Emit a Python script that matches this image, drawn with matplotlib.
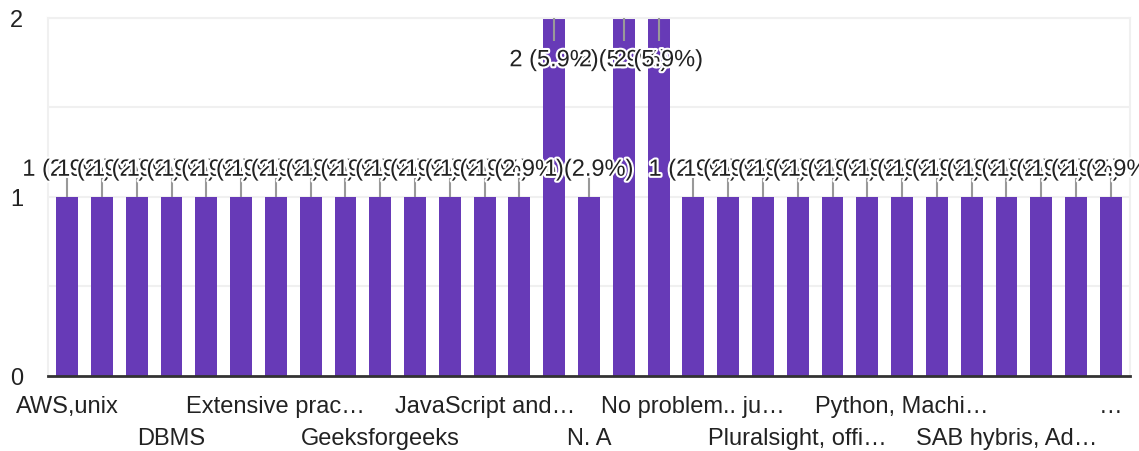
import matplotlib
matplotlib.use("Agg")
import matplotlib.pyplot as plt
import matplotlib.patheffects as pe
import matplotlib.transforms as mtransforms

plt.rcParams['font.family'] = ['Liberation Sans', 'DejaVu Sans']

# Categories (only every third label is visible in the chart; the others are unreadable)
categories = [
    "AWS,unix", "", "", "DBMS", "", "", "Extensive prac\u2026", "", "",
    "Geeksforgeeks", "", "", "JavaScript and\u2026", "", "", "N. A", "", "",
    "No problem.. ju\u2026", "", "", "Pluralsight, offi\u2026", "", "",
    "Python, Machi\u2026", "", "", "SAB hybris, Ad\u2026", "", "", "\u2026",
]
values = [1, 1, 1, 1, 1, 1, 1, 1, 1, 1, 1, 1, 1, 1, 2, 1, 2, 2,
          1, 1, 1, 1, 1, 1, 1, 1, 1, 1, 1, 1, 1]
total = sum(values)
yticks = [0, 1, 2]

BAR = '#673ab7'
TXT = '#222222'
GRID = '#f0f0f0'

W, H = 1139, 452
fig = plt.figure(figsize=(W / 100, H / 100), dpi=100)
left, right, top, bottom = 48, 1130, 18.5, 377
ax = fig.add_axes([left / W, 1 - bottom / H, (right - left) / W, (bottom - top) / H])

x = list(range(len(values)))
ax.bar(x, values, width=0.63, color=BAR, zorder=2)
ax.set_xlim(-0.55, len(values) - 0.45)
ax.set_ylim(0, 2)

for g in [0.5, 1, 1.5, 2]:
    ax.axhline(g, color=GRID, lw=1.5, zorder=1)

for s in ['left', 'right', 'top']:
    ax.spines[s].set_color(GRID)
    ax.spines[s].set_linewidth(1.5)
ax.spines['bottom'].set_color('#333333')
ax.spines['bottom'].set_linewidth(2)
ax.spines['bottom'].set_zorder(5)

ax.set_yticks(yticks)
ax.set_yticklabels([str(t) for t in yticks])
ax.tick_params(axis='y', length=0, pad=18, labelsize=17, labelcolor=TXT)
ax.set_xticks([])

# x category labels, alternating in two rows
trans = mtransforms.blended_transform_factory(ax.transData, ax.transAxes)
k = 0
for i, c in enumerate(categories):
    if c:
        yrow = -0.1004 if k % 2 == 0 else -0.1897
        ax.text(i, yrow, c, transform=trans, ha='center', va='baseline',
                fontsize=17, color=TXT, clip_on=False)
        k += 1

# value annotations with stems
halo = [pe.withStroke(linewidth=3, foreground='white')]
for i, v in enumerate(values):
    pct = 100.0 * v / total
    label = f"{v} ({pct:.1f}%)"
    if v >= 2:
        ax.plot([i, i], [v, v - 0.13], color='#999999', lw=1.5, zorder=3,
                solid_capstyle='butt', clip_on=False)
        ty = v - 0.272
    else:
        ax.plot([i, i], [v, v + 0.11], color='#999999', lw=1.5, zorder=3,
                solid_capstyle='butt', clip_on=False)
        ty = v + 0.117
    ax.text(i, ty, label, ha='center', va='baseline', fontsize=17, color=TXT,
            zorder=4, path_effects=halo, clip_on=False)

fig.savefig('out.png', dpi=100)
